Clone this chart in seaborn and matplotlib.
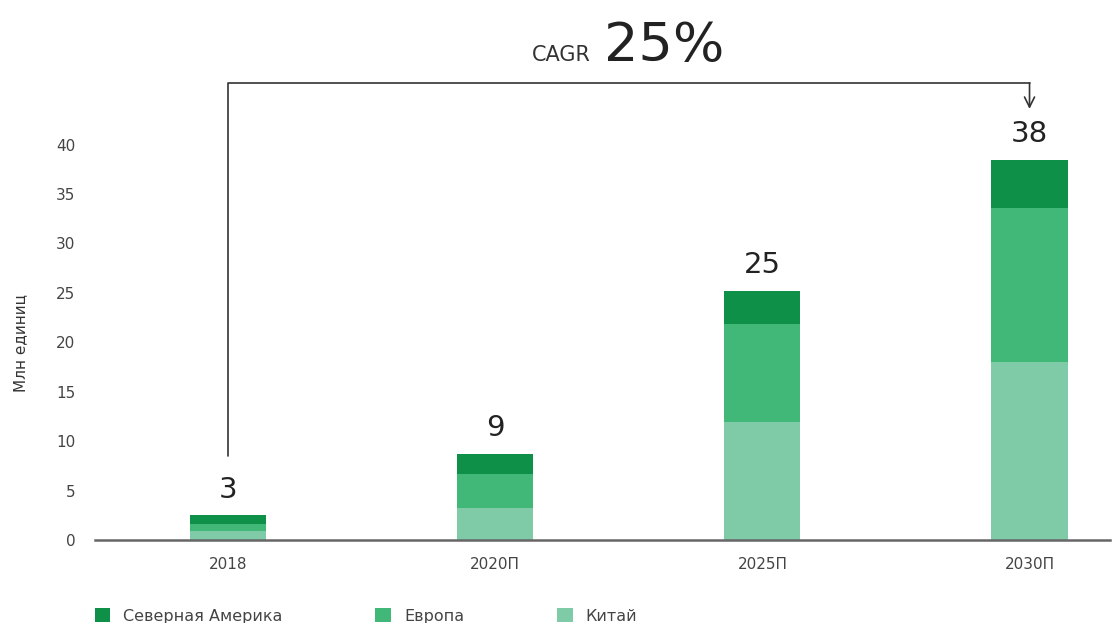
import pandas as pd
import matplotlib.pyplot as plt
import seaborn as sns

# data
years = ["2018", "2020П", "2025П", "2030П"]
china = [0.9, 3.2, 11.9, 18.0]
europe = [0.7, 3.5, 10.0, 15.6]
north_america = [0.9, 2.0, 3.3, 4.8]
total_labels = ["3", "9", "25", "38"]
cagr_text = "25%"

col_na = "#0f9048"
col_eu = "#41b877"
col_cn = "#80cba7"

df = pd.DataFrame({"year": years, "china": china, "europe": europe, "na": north_america})
df["lvl1"] = df["china"]
df["lvl2"] = df["china"] + df["europe"]
df["lvl3"] = df["lvl2"] + df["na"]

sns.set_style("white")
fig = plt.figure(figsize=(11.13, 6.23), dpi=100)
ax = fig.add_axes([0.085, 0.133, 0.912, 0.77])

# stacked bars: draw the cumulative heights from the top down
w = 0.285
sns.barplot(data=df, x="year", y="lvl3", color=col_na, width=w, ax=ax, saturation=1, linewidth=0, label="Северная Америка")
sns.barplot(data=df, x="year", y="lvl2", color=col_eu, width=w, ax=ax, saturation=1, linewidth=0, label="Европа")
sns.barplot(data=df, x="year", y="lvl1", color=col_cn, width=w, ax=ax, saturation=1, linewidth=0, label="Китай")
handles, labels = ax.get_legend_handles_labels()
if ax.get_legend() is not None:
    ax.get_legend().remove()

ax.set_xlim(-0.5, 3.3)
ax.set_ylim(0, 48.5)
ax.set_yticks(range(0, 41, 5))
ax.tick_params(axis="both", length=0, labelsize=11, colors="#444444")
ax.tick_params(axis="x", pad=12)
ax.tick_params(axis="y", pad=14)
ax.set_xlabel("")
ax.set_ylabel("Млн единиц", fontsize=11, color="#333333")
ax.yaxis.set_label_coords(-0.065, 0.41)
for s in ["top", "right", "left"]:
    ax.spines[s].set_visible(False)
ax.spines["bottom"].set_color("#666666")
ax.spines["bottom"].set_linewidth(1.8)

# totals above the bars
for i, t in enumerate(total_labels):
    ax.text(i, df["lvl3"][i] + 1.2, t, ha="center", va="bottom", fontsize=21, color="#222222")

# CAGR bracket
ybr = 46.2
ax.plot([0, 0, 3], [8.5, ybr, ybr], color="#333333", lw=1.2, clip_on=False)
ax.annotate("", xy=(3, 43.6), xytext=(3, ybr),
            arrowprops=dict(arrowstyle="->", color="#333333", lw=1.2, mutation_scale=18, shrinkA=0, shrinkB=0),
            annotation_clip=False)
fig.text(0.531, 0.902, "CAGR", fontsize=15, color="#333333", ha="right", va="baseline")
fig.text(0.543, 0.902, cagr_text, fontsize=39, color="#222222", ha="left", va="baseline")

# legend along the bottom
fig.legend(handles, labels, loc="lower left", bbox_to_anchor=(0.072, -0.024), ncol=3, frameon=False,
           fontsize=11.5, handlelength=1.0, handleheight=1.0, columnspacing=5.8, handletextpad=0.8,
           labelcolor="#444444")

plt.savefig("out.png", dpi=100)
